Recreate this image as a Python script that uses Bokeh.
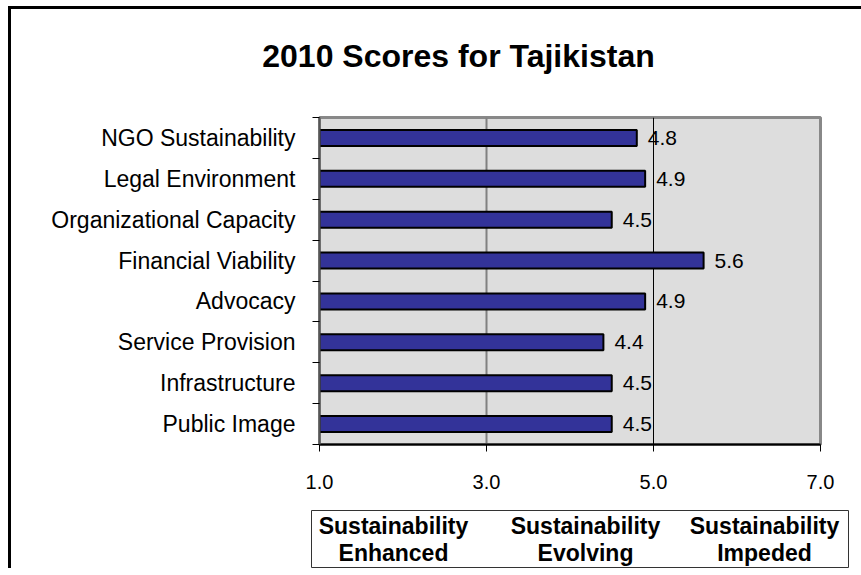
from bokeh.plotting import figure
from bokeh.models import (Range1d, FixedTicker, Span, ColumnDataSource)
from bokeh.layouts import column
from bokeh.core.properties import value
from bokeh.embed import file_html
from bokeh.resources import INLINE

# ---- data ----
categories = ["NGO Sustainability", "Legal Environment", "Organizational Capacity",
              "Financial Viability", "Advocacy", "Service Provision",
              "Infrastructure", "Public Image"]
scores = [4.8, 4.9, 4.5, 5.6, 4.9, 4.4, 4.5, 4.5]
score_labels = ["4.8", "4.9", "4.5", "5.6", "4.9", "4.4", "4.5", "4.5"]
x_ticks = [1, 3, 5, 7]
x_tick_labels = ["1.0", "3.0", "5.0", "7.0"]
title_text = "2010 Scores for Tajikistan"
zone_line1 = ["Sustainability", "Sustainability", "Sustainability"]
zone_line2 = ["Enhanced", "Evolving", "Impeded"]

FONT = "Liberation Sans"
W = 850

# ---- title strip ----
pt = figure(width=W, height=90, output_backend="svg", toolbar_location=None,
            x_range=Range1d(0, W), y_range=Range1d(90, 0),
            x_axis_location=None, y_axis_location=None,
            min_border_left=0, min_border_right=0, min_border_top=0, min_border_bottom=0)
pt.grid.visible = False
pt.outline_line_color = None
pt.background_fill_color = "white"
pt.border_fill_color = "white"
pt.frame_align = False
pt.text(x=[447], y=[46], text=[title_text], text_align="center", text_baseline="middle",
        text_font=value(FONT), text_font_size="32px", text_font_style="bold", text_color="black")

# ---- main chart ----
n = len(categories)
row_pos = [n - i - 0.5 for i in range(n)]  # first category at the top
src = ColumnDataSource(dict(y=row_pos, score=scores, label=score_labels, cat=categories))

p = figure(width=W, height=410, output_backend="svg", toolbar_location=None,
           x_range=Range1d(1, 7), y_range=Range1d(0, n),
           min_border_left=308, min_border_right=41, min_border_top=18, min_border_bottom=65)
p.frame_align = False
p.background_fill_color = "#dddddd"
p.border_fill_color = "white"
p.outline_line_color = "#888888"
p.outline_line_width = 3
p.grid.visible = False

p.add_layout(Span(location=3, dimension="height", line_color="#808080", line_width=2, level="underlay"))
p.add_layout(Span(location=5, dimension="height", line_color="black", line_width=1, level="underlay"))

p.hbar(y="y", left=1, right="score", height=0.39, source=src,
       fill_color="#333399", line_color="black", line_width=2)

p.text(x="score", y="y", text="label", x_offset=11, source=src,
       text_baseline="middle", text_align="left",
       text_font=value(FONT), text_font_size="21px", text_color="black")

xa = p.xaxis[0]
xa.ticker = FixedTicker(ticks=x_ticks)
xa.major_label_overrides = {t: l for t, l in zip(x_ticks, x_tick_labels)}
xa.major_tick_out = 7
xa.major_tick_in = 0
xa.major_tick_line_color = "black"
xa.axis_line_color = "black"
xa.axis_line_width = 2
xa.major_label_standoff = 23
xa.major_label_text_font = FONT
xa.major_label_text_font_size = "20px"
xa.major_label_text_color = "black"

ya = p.yaxis[0]
ya.ticker = FixedTicker(ticks=row_pos, minor_ticks=list(range(n + 1)))
ya.major_label_overrides = {y: c for y, c in zip(row_pos, categories)}
ya.major_tick_line_color = None
ya.major_tick_out = 0
ya.major_tick_in = 0
ya.minor_tick_out = 7
ya.minor_tick_in = 0
ya.minor_tick_line_color = "black"
ya.axis_line_color = "#555555"
ya.axis_line_width = 2
ya.major_label_standoff = 17
ya.major_label_text_font = FONT
ya.major_label_text_font_size = "23px"
ya.major_label_text_color = "black"

# ---- zone legend box ----
p2 = figure(width=W, height=59, output_backend="svg", toolbar_location=None,
            x_range=Range1d(0, 537), y_range=Range1d(57, 0),
            x_axis_location=None, y_axis_location=None,
            min_border_left=300, min_border_right=13, min_border_top=1, min_border_bottom=1)
p2.frame_align = False
p2.grid.visible = False
p2.background_fill_color = "white"
p2.border_fill_color = "white"
p2.outline_line_color = "#333333"
p2.outline_line_width = 1
zone_x = [82, 274, 453]
p2.text(x=zone_x, y=[15] * 3, text=zone_line1, text_align="center", text_baseline="middle",
        text_font=value(FONT), text_font_size="23px", text_font_style="bold", text_color="black")
p2.text(x=zone_x, y=[42] * 3, text=zone_line2, text_align="center", text_baseline="middle",
        text_font=value(FONT), text_font_size="23px", text_font_style="bold", text_color="black")

layout = column(pt, p, p2, spacing=0,
                styles={"margin-left": "8px", "margin-top": "6px",
                        "border-left": "3px solid black", "border-top": "3px solid black"})

open("out.html", "w").write(file_html(layout, INLINE))
